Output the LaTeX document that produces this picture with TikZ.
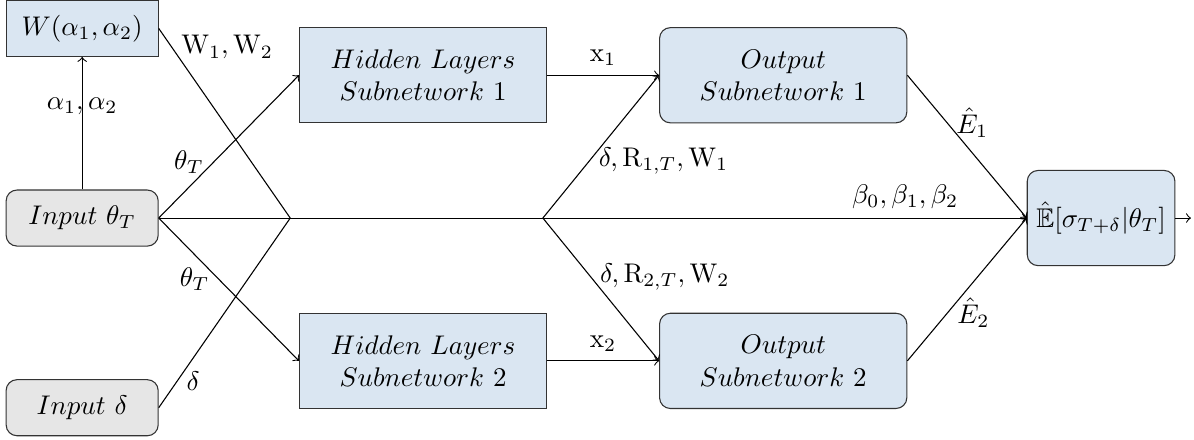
\documentclass[tikz,border=0pt]{standalone}
\usepackage{amssymb}
\usetikzlibrary{arrows}
\definecolor{netblue}{RGB}{218,230,242}
\definecolor{ingray}{RGB}{230,230,230}

\begin{document}
\begin{tikzpicture}[node distance=2.47cm,
        net node/.style={rectangle,draw=black!80,fill=netblue,align=center,
          minimum width=3.22cm,minimum height=1.24cm},
        in node/.style={rectangle,rounded corners=4pt,draw=black!80,fill=ingray,
          minimum width=1.98cm,minimum height=0.73cm}]

        \useasboundingbox (-1.07,2.84) rectangle (14.48,-2.89);

        \node[in node] (in1) {$Input\ \theta_T$};
        \node[net node] [minimum width=1.98cm,minimum height=0.73cm] (w) [above of=in1] {$W(\alpha_1,\alpha_2)$};
        \node[in node] (in2) [below of=in1] {$Input\ \delta$};
        \node[net node] (h1) at (4.44,1.86) {$Hidden\ Layers$\\$Subnetwork\ 1$};
        \node[net node] (h2) at (4.44,-1.86) {$Hidden\ Layers$\\$Subnetwork\ 2$};
        \node[net node] [rounded corners=4pt] (o1) [right of=h1,node distance=4.69cm] {$Output$\\$Subnetwork\ 1$};
        \node[net node] [rounded corners=4pt] (o2) [right of=h2,node distance=4.69cm] {$Output$\\$Subnetwork\ 2$};
        \node[net node] [rounded corners=4pt,minimum width=1.875cm] (e) at (13.27,0) {$\hat{\mathbb{E}}[\sigma_{T+\delta}|\theta_T]$};

        \coordinate (j1) at (2.71,0);
        \coordinate (j2) at (6.0,0);
        \coordinate (out) at (14.44,0);

        \path[->]
          (in1) edge node[pos=0.63] {$\alpha_1,\alpha_2$} (w)
          (in1.east) edge node[pos=0.39,left] {$\theta_T$} (h1.west)
          (in1.east) edge node[pos=0.43,left] {$\theta_T$} (h2.west)
          (in1) edge node[pos=0.86,above] {$\beta_0,\beta_1,\beta_2$} (e)
          (h1) edge node[above] {$\mathrm{x}_1$} (o1)
          (h2) edge node[above] {$\mathrm{x}_2$} (o2)
          (j2) edge node[pos=0.4,right] {$\delta,\mathrm{R}_{1,T},\mathrm{W}_1$} (o1.west)
          (j2) edge node[pos=0.41,right] {$\delta,\mathrm{R}_{2,T},\mathrm{W}_2$} (o2.west)
          (o1.east) edge node[pos=0.33,right] {$\hat{E}_1$} (e.west)
          (o2.east) edge node[pos=0.34,right] {$\hat{E}_2$} (e.west)
          (e) edge (out)
          ;
        \path
          (w.east) edge node[pos=0.1,right] {$\mathrm{W}_1,\mathrm{W}_2$} (j1)
          (in2.east) edge node[pos=0.14,right] {$\delta$} (j1)
          ;
    \end{tikzpicture}
\end{document}
